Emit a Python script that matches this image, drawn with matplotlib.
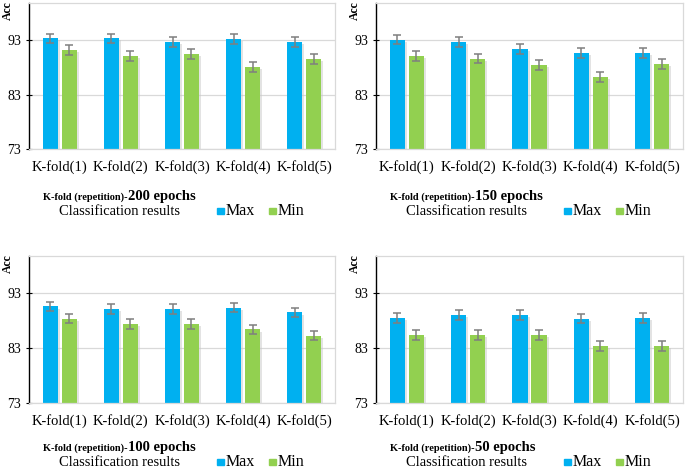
import matplotlib
matplotlib.use("Agg")
import matplotlib.pyplot as plt
import matplotlib.patheffects as pe
import numpy as np

folds = ["K-fold(1)", "K-fold(2)", "K-fold(3)", "K-fold(4)", "K-fold(5)"]
epochs = ["200", "150", "100", "50"]

max_200 = [93.3, 93.3, 92.6, 93.2, 92.6]
min_200 = [91.2, 90.1, 90.4, 88.0, 89.5]
max_150 = [93.1, 92.6, 91.3, 90.6, 90.6]
min_150 = [90.1, 89.6, 88.35, 86.2, 88.6]
max_100 = [90.6, 90.1, 90.2, 90.4, 89.5]
min_100 = [88.4, 87.45, 87.45, 86.4, 85.3]
max_50 = [88.55, 89.0, 89.1, 88.4, 88.55]
min_50 = [85.4, 85.4, 85.4, 83.4, 83.4]
err = 0.9

yticks = [73, 83, 93]

series = [(max_200, min_200), (max_150, min_150), (max_100, min_100), (max_50, min_50)]

W, H = 685, 471
fig = plt.figure(figsize=(W / 100, H / 100), dpi=100)
plt.rcParams['font.family'] = ['Liberation Serif', 'DejaVu Serif']

BLUE = "#00B0F0"
GREEN = "#92D050"
GRAY = "#d9d9d9"

# axes boxes in pixels: left, top, right, bottom
boxes = [(29, 3, 335, 149), (376, 3, 683, 149), (29, 256, 335, 403), (376, 256, 683, 403)]
text_shift = [0, 0, -3, -3]

def fx(px):
    return px / W

def fy(py):
    return 1 - py / H

x = np.arange(len(folds))
bw = 0.245
off = 0.155

for i, ((mx, mn), (l, t, r, b), ep, sh) in enumerate(zip(series, boxes, epochs, text_shift)):
    ax = fig.add_axes([fx(l), fy(b), (r - l) / W, (b - t) / H])
    shadow = [pe.SimplePatchShadow(offset=(1.5, -1.5), shadow_rgbFace="#c8c8c8", alpha=0.5), pe.Normal()]
    b1 = ax.bar(x - off, mx, bw, color=BLUE, zorder=2)
    b2 = ax.bar(x + off, mn, bw, color=GREEN, zorder=2)
    for bars in (b1, b2):
        for p in bars:
            p.set_path_effects(shadow)
    ax.errorbar(x - off, mx, yerr=err, fmt="none", ecolor="#7f7f7f", elinewidth=1.1, capsize=3, capthick=1.1, zorder=3)
    ax.errorbar(x + off, mn, yerr=err, fmt="none", ecolor="#7f7f7f", elinewidth=1.1, capsize=3, capthick=1.1, zorder=3)
    ax.set_xlim(-0.5, len(folds) - 0.5)
    ax.set_ylim(73, 99.8)
    ax.set_yticks(yticks)
    ax.set_yticklabels([str(v) for v in yticks], fontsize=10)
    ax.set_xticks(x)
    ax.set_xticklabels(folds, fontsize=10.5)
    ax.tick_params(axis="x", length=0, pad=8)
    ax.tick_params(axis="y", direction="inout", length=5, width=0.8, pad=3)
    ax.grid(axis="y", color=GRAY, linewidth=0.9, zorder=0)
    ax.set_axisbelow(True)
    for s in ("top", "right", "bottom"):
        ax.spines[s].set_color(GRAY)
        ax.spines[s].set_linewidth(0.9)
    ax.spines["left"].set_color("black")
    ax.spines["left"].set_linewidth(1.0)

    # y label "Acc"
    fig.text(fx(l - 21), fy(max(t - 2, 0)), "Acc", rotation=90, fontsize=8.5, fontweight="bold", ha="center", va="top")

    # title line
    base_y = b + 51 + sh
    t1 = fig.text(fx(l + 14), fy(base_y), "K-fold (repetition)-", fontsize=7.5, fontweight="bold", ha="left", va="baseline")
    fig.canvas.draw()
    bb = t1.get_window_extent()
    fig.text(bb.x1 / W, fy(base_y), ep + " epochs", fontsize=10.5, fontweight="bold", ha="left", va="baseline")
    # Classification results
    cr_y = b + 66 + sh
    fig.text(fx(l + 30), fy(cr_y), "Classification results", fontsize=10.5, ha="left", va="baseline")
    # legend
    sq = 6.5
    for xs, col, lab in ((l + 188, BLUE, "Max"), (l + 240, GREEN, "Min")):
        fig.patches.append(plt.Rectangle((fx(xs), fy(cr_y - 1)), sq / W, sq / H, color=col, transform=fig.transFigure, figure=fig))
        fig.text(fx(xs + sq + 2), fy(cr_y), lab, fontsize=11.5, ha="left", va="baseline")

fig.savefig("out.png", dpi=100)
